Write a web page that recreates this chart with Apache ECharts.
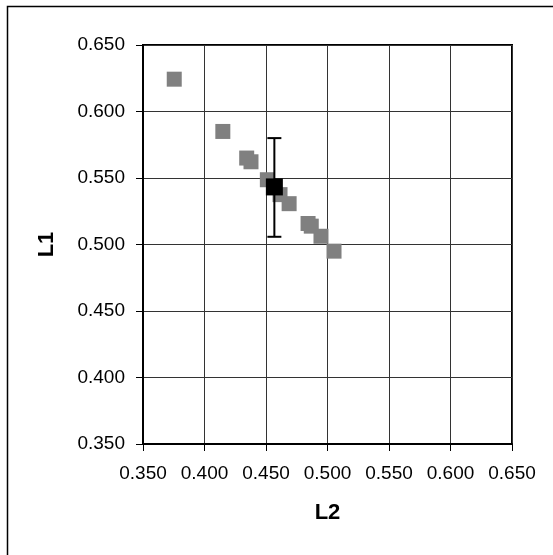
<!DOCTYPE html>
<html>
<head>
<meta charset="utf-8">
<script src="https://cdn.jsdelivr.net/npm/echarts@6/dist/echarts.min.js"></script>
<style>
html,body{margin:0;padding:0;background:#fff;}
#chart{width:553px;height:555px;}
</style>
</head>
<body>
<div id="chart"></div>
<script>
// Gray sample points (L2, L1)
const sampleL2 = [0.3754, 0.4149, 0.4343, 0.4378, 0.4511, 0.4614, 0.4688, 0.4842, 0.4868, 0.4947, 0.5053];
const sampleL1 = [0.6243, 0.5850, 0.5650, 0.5622, 0.5487, 0.5375, 0.5307, 0.5158, 0.5138, 0.5062, 0.4950];
// Mean point with error bar
const meanL2 = [0.4568];
const meanL1 = [0.5433];
const errLow = [0.5058];
const errHigh = [0.5800];
const tickValues = [0.35, 0.40, 0.45, 0.50, 0.55, 0.60, 0.65];

const samples = sampleL2.map((x, i) => [x, sampleL1[i]]);
const mean = meanL2.map((x, i) => [x, meanL1[i]]);
const errData = meanL2.map((x, i) => [x, errLow[i], errHigh[i]]);

const font = '"Liberation Sans", Arial, sans-serif';
const chart = echarts.init(document.getElementById('chart'));

function axisCommon(name, isX) {
  return {
    type: 'value',
    min: tickValues[0],
    max: tickValues[tickValues.length - 1],
    interval: 0.05,
    name: name,
    nameLocation: 'middle',
    nameGap: isX ? 58 : 85,
    nameRotate: isX ? 0 : 90,
    nameTextStyle: { fontFamily: font, fontSize: 22, fontWeight: 'bold', color: '#000' },
    axisLine: { show: true, onZero: false, lineStyle: { color: '#000', width: 2 } },
    axisTick: { show: true, inside: false, length: 7, lineStyle: { color: '#000', width: 1 } },
    axisLabel: {
      fontFamily: font, fontSize: 19, color: '#000',
      margin: isX ? 20 : 18,
      formatter: v => v.toFixed(3)
    },
    splitLine: { show: true, lineStyle: { color: '#333', width: 1 } }
  };
}

chart.setOption({
  animation: false,
  backgroundColor: '#fff',
  grid: { left: 143, right: 41, top: 45, bottom: 111, show: true, borderColor: '#000', borderWidth: 2, backgroundColor: 'transparent' },
  xAxis: axisCommon('L2', true),
  yAxis: axisCommon('L1', false),
  graphic: [{
    type: 'rect', shape: { x: 7.5, y: 6.5, width: 700, height: 700 },
    style: { fill: 'none', stroke: '#000', lineWidth: 1.5 }, silent: true, z: -10
  }],
  series: [
    {
      type: 'scatter', data: samples, symbol: 'rect', symbolSize: 15,
      itemStyle: { color: '#808080', opacity: 1 }, z: 2
    },
    {
      type: 'custom', data: errData, z: 3,
      renderItem: function (params, api) {
        const x = api.value(0);
        const lo = api.coord([x, api.value(1)]);
        const hi = api.coord([x, api.value(2)]);
        const cap = 7;
        const st = { stroke: '#000', lineWidth: 2 };
        return {
          type: 'group',
          children: [
            { type: 'line', shape: { x1: lo[0], y1: lo[1], x2: hi[0], y2: hi[1] }, style: st },
            { type: 'line', shape: { x1: lo[0] - cap, y1: lo[1], x2: lo[0] + cap, y2: lo[1] }, style: st },
            { type: 'line', shape: { x1: hi[0] - cap, y1: hi[1], x2: hi[0] + cap, y2: hi[1] }, style: st }
          ]
        };
      },
      encode: { x: 0, y: [1, 2] }
    },
    {
      type: 'scatter', data: mean, symbol: 'rect', symbolSize: 17,
      itemStyle: { color: '#000', opacity: 1 }, z: 4
    }
  ]
});
</script>
</body>
</html>
